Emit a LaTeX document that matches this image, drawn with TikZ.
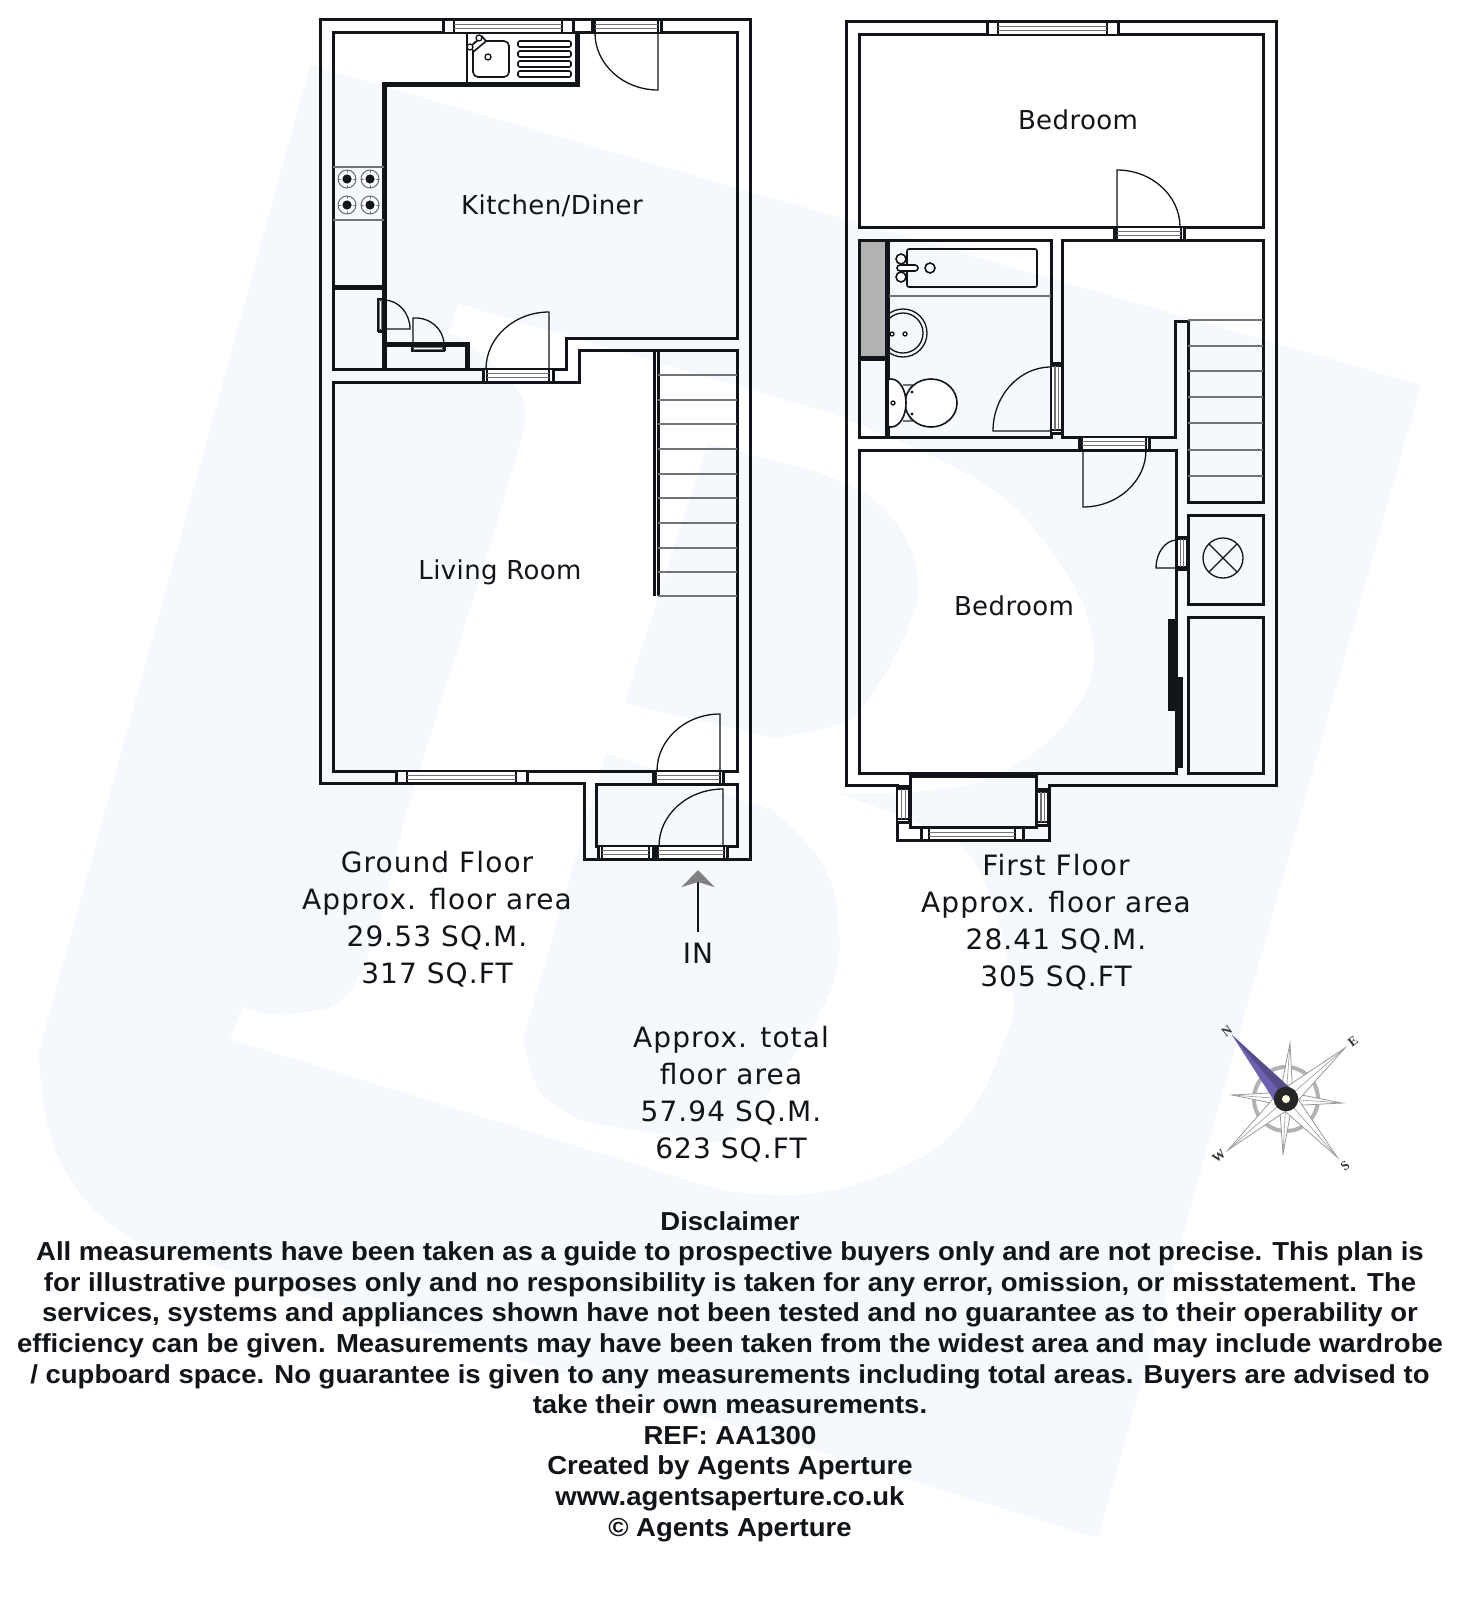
\documentclass[tikz,border=0pt]{standalone}
\usepackage{fontspec}
\setmainfont[LetterSpace=1.5]{DejaVu Sans}
\newfontfamily\areafont[LetterSpace=3.9]{DejaVu Sans}
\newfontfamily\noticefont[FakeStretch=1.058]{Liberation Sans}
\newfontfamily\compassfont{Liberation Serif}
\usepackage{xcolor}
\usetikzlibrary{calc, arrows.meta}
\definecolor{logoblue}{HTML}{F5F8FD}
\definecolor{inkblack}{HTML}{111418}
\definecolor{needlepurple}{HTML}{6E5FB0}
\tikzset{
  wall/.style={draw=inkblack,line width=3pt,line join=miter},
  thickwall/.style={draw=inkblack,line width=5pt,line join=miter},
  thin line/.style={draw=inkblack,line width=1.6pt},
  greyline/.style={draw=black!55,line width=1.6pt},
  doorline/.style={draw=inkblack,line width=1.3pt},
  roomlabel/.style={font=\fontsize{26}{30}\selectfont,text=inkblack,anchor=base,inner sep=0pt},
  arealabel/.style={font=\areafont\fontsize{28}{36.7}\selectfont,text=inkblack,align=center,anchor=base,inner sep=0pt},
  compassletter/.style={font=\compassfont\bfseries\fontsize{13}{13}\selectfont,text=black!80,rotate=38,inner sep=0pt},
}
% opening in a wall: corners, then the inset of its cross pieces
\newcommand{\openh}[5]{
  \fill[white] (#1,#2) rectangle (#3,#4);
  \draw[thin line,line width=2.4pt] (#1,#2) rectangle (#3,#4);
  \draw[thin line,line width=3pt] (#1,#2)--(#1,#4) (#3,#2)--(#3,#4);
  \draw[thin line,line width=2pt] ({#1+#5},#2)--({#1+#5},#4) ({#3-#5},#2)--({#3-#5},#4);
  \draw[greyline,line width=1.2pt] ({#1+#5},{#2+0.36*(#4-#2)})--({#3-#5},{#2+0.36*(#4-#2)}) ({#1+#5},{#2+0.68*(#4-#2)})--({#3-#5},{#2+0.68*(#4-#2)});
}
\newcommand{\openv}[5]{
  \fill[white] (#1,#2) rectangle (#3,#4);
  \draw[thin line,line width=2.4pt] (#1,#2) rectangle (#3,#4);
  \draw[thin line,line width=3pt] (#1,#2)--(#3,#2) (#1,#4)--(#3,#4);
  \draw[thin line,line width=2pt] (#1,{#2+#5})--(#3,{#2+#5}) (#1,{#4-#5})--(#3,{#4-#5});
  \draw[greyline,line width=1.2pt] ({#1+0.36*(#3-#1)},{#2+#5})--({#1+0.36*(#3-#1)},{#4-#5}) ({#1+0.68*(#3-#1)},{#2+#5})--({#1+0.68*(#3-#1)},{#4-#5});
}
% door: hinge, tip of the leaf, end of the swing
\newcommand{\doorleaf}[3]{
  \draw[doorline] (#1)--(#2) .. controls ($(#2)+0.55*(#3)-0.55*(#1)$) and ($(#3)+0.55*(#2)-0.55*(#1)$) .. (#3);
}
\newcommand{\burner}[2]{
  \draw[black!60,line width=0.9pt] (#1,#2) circle[radius=9pt];
  \draw[black!60,line width=0.9pt] (#1,{#2-9})--(#1,{#2+9}) ({#1-9},#2)--({#1+9},#2);
  \fill[white] (#1,#2) circle[radius=6.5pt];
  \fill[inkblack] (#1,#2) circle[radius=4.6pt];
}
\begin{document}
\begin{tikzpicture}[x=1pt,y=-1pt]
\useasboundingbox (0,0) rectangle (1461,1600);
\fill[white] (0,0) rectangle (1461,1600);

% logo behind the plans
\fill[logoblue] (310,65)--(1421,385)--(1098,1538)--(156,1248)
  -- plot[smooth,tension=0.7] coordinates{(156,1248) (115,1228) (69,1178) (46,1118) (39,1051)} -- cycle;
\fill[white] (458,304)--(830,413)
  -- plot[smooth,tension=0.7] coordinates{(830,413) (977,480) (1050,550) (1092,637) (1075,710) (1007,770) (930,790) (837,793)}
  -- plot[smooth,tension=0.7] coordinates{(837,793) (909,820) (963,847) (994,910) (1013,994) (1003,1044) (966,1118) (909,1163) (815,1193) (720,1190)}
  -- (230,1039)--(243,1007)
  -- plot[smooth,tension=0.7] coordinates{(243,1007) (294,1014) (358,979) (404,820)}
  -- (493,537)--(522,437)
  -- plot[smooth,tension=0.7] coordinates{(522,437) (525,413) (520,393) (500,370) (468,343) (449,333)} -- cycle;
\fill[logoblue] (708,443)--(811,470)
  -- plot[smooth,tension=0.7] coordinates{(811,470) (880,505) (917,570) (907,630) (863,707) (830,727) (773,738)}
  -- (624,703) -- cycle;
\fill[logoblue] (606,753)--(772,810)
  -- plot[smooth,tension=0.7] coordinates{(772,810) (820,861) (838,920) (829,994) (767,1094) (720,1143)}
  -- (588,1123)
  -- plot[smooth,tension=0.7] coordinates{(588,1123) (542,1094) (523,1039)} -- cycle;

% ground floor walls
\draw[wall] (320,20)--(750,20)--(750,859)--(584,859)--(584,783)--(320,783)--cycle;
\draw[wall] (333,33)--(737,33)--(737,338)--(566,338)--(566,369)--(333,369)--cycle;
\draw[wall] (333,382)--(579,382)--(579,350)--(737,350)--(737,771)--(333,771)--cycle;
\draw[wall] (596,784) rectangle (737,846);
\draw[thickwall] (384,369)--(384,85)--(577,85)--(577,33);
\draw[thickwall] (333,287)--(384,287);
\draw[thickwall] (384,344)--(467,344)--(467,369);
\draw[wall] (654,350)--(654,596);
\draw[wall] (658,350)--(658,596);
\foreach \ty in {375,400,424,449,474,498,523,548,572,596}{
\draw[greyline] (658,\ty)--(737,\ty);
}

% ground floor windows and doors
\openh{443}{20}{573}{33}{11}
\openh{396}{771}{527}{783}{11}
\openh{598}{846}{653}{859}{4}
\openh{592}{20}{661}{33}{3}
\openh{483}{369}{553}{382}{4}
\openh{653}{771}{723}{784}{3}
\openh{655}{846}{727}{859}{3}
\doorleaf{658,33}{658,90}{595,33}
\doorleaf{549,369}{549,312}{486,369}
\doorleaf{720,771}{720,714}{657,771}
\doorleaf{723,846}{723,789}{659,846}
\openv{378}{299}{383}{331}{1}
\openh{412}{346}{444}{351}{1}
\doorleaf{384,329}{410,329}{384,300}
\doorleaf{413,347}{413,318}{444,345}

% kitchen fittings
\draw[thin line] (467,33)--(467,85);
\draw[thin line,rounded corners=5pt] (473,41) rectangle (509,77);
\foreach \by in {41,51,61,71}{
\draw[thin line,rounded corners=2pt] (518,\by) rectangle (571,{\by+6});
}
\draw[doorline] (488,57) circle[radius=3pt];
\draw[thin line,fill=white,rotate around={40:(478,44)}] (470,41) rectangle (486,47);
\draw[doorline,fill=white] (470,47) circle[radius=3pt] (479,38) circle[radius=3pt];
\draw[greyline] (333,167)--(384,167) (333,220)--(384,220);
\burner{347}{179}
\burner{370}{179}
\burner{347}{205}
\burner{370}{205}

% first floor walls
\draw[wall] (846,22)--(1276,22)--(1276,785)--(1049,785)--(1049,840)--(897,840)--(897,785)--(846,785)--cycle;
\draw[wall] (859,35) rectangle (1263,227);
\fill[black!30] (861,242) rectangle (885,358);
\draw[wall] (859,240) rectangle (1051,437);
\draw[thickwall] (887,240)--(887,437);
\draw[thickwall] (859,358)--(887,358);
\draw[wall] (1062,240)--(1263,240)--(1263,502)--(1188,502)--(1188,321)--(1175,321)--(1175,437)--(1062,437)--cycle;
\foreach \ty in {320,346,371,397,423,450,476}{
\draw[greyline] (1188,\ty)--(1263,\ty);
}
\draw[wall] (859,450) rectangle (1176,773);
\draw[wall] (1188,515) rectangle (1263,604);
\draw[wall] (1188,617) rectangle (1263,773);
\draw[wall] (910,776) rectangle (1036,827);
\fill[inkblack] (1168,619) rectangle (1175,711);
\fill[inkblack] (1176,677) rectangle (1183,768);

% first floor windows and doors
\openh{987}{22}{1118}{35}{11}
\openh{921}{828}{1023}{840}{8}
\openv{897}{786}{909}{822}{3}
\openv{1037}{789}{1048}{825}{3}
\openh{1114}{227}{1184}{240}{3}
\openh{1079}{437}{1149}{450}{3}
\openv{1051}{363}{1062}{433}{3}
\openv{1177}{537}{1187}{569}{2}
\doorleaf{1117,227}{1117,170}{1180,227}
\doorleaf{1083,450}{1083,507}{1146,450}
\doorleaf{1051,431}{993,431}{1051,367}
\doorleaf{1177,568}{1156,568}{1177,540}

% bathroom fittings
\draw[thin line,rounded corners=2pt] (907,249) rectangle (1037,287);
\draw[thin line,fill=white] (901,259) circle[radius=5pt] (901,277) circle[radius=5pt];
\draw[thin line,fill=white,rounded corners=3pt] (897,265) rectangle (918,271);
\draw[thin line] (930,268) circle[radius=5pt];
\draw[greyline] (889,296)--(1051,296);
\begin{scope}
\clip (889,300) rectangle (970,432);
\draw[doorline] (903,333) circle[radius=24pt] (903,333) circle[radius=20pt];
\draw[doorline] (892,334) circle[radius=2pt] (905,334) circle[radius=2pt];
\draw[greyline] (903,385)--(912,385)--(906,397) (903,421)--(912,421)--(906,409);
\draw[thin line,fill=white] (931,403) ellipse[x radius=26pt,y radius=24pt];
\draw[thin line,fill=white] (891,403) ellipse[x radius=15pt,y radius=24pt];
\draw[doorline] (893,403) circle[radius=2pt];
\fill[inkblack] (912,392) circle[radius=1.6pt] (912,414) circle[radius=1.6pt];
\end{scope}
\draw[doorline] (1223,558) circle[radius=20pt];
\draw[doorline] ($(1223,558)+(-14,-14)$)--($(1223,558)+(14,14)$) ($(1223,558)+(14,-14)$)--($(1223,558)+(-14,14)$);

% room names
\node[roomlabel] (kitchen) at (552,214) {Kitchen/Diner};
\node[roomlabel] (living) at (500,579) {Living Room};
\node[roomlabel] (bedtop) at (1078,130) {Bedroom};
\node[roomlabel] (bedlow) at (1014,615) {Bedroom};

% areas
\node[arealabel] (groundarea) at (437,983) {Ground Floor\\Approx. floor area\\29.53 SQ.M.\\317 SQ.FT};
\node[arealabel] (firstarea) at (1056,986) {First Floor\\Approx. floor area\\28.41 SQ.M.\\305 SQ.FT};
\node[arealabel] (totalarea) at (731,1158) {Approx. total\\floor area\\57.94 SQ.M.\\623 SQ.FT};

% way in
\node[roomlabel,font=\areafont\fontsize{28}{30}\selectfont] (inlabel) at (698,963) {IN};
\coordinate (intip) at (698,870);
\draw[line width=2pt,draw=inkblack,-{Stealth[length=17pt,width=33pt,inset=5pt,color=black!50]}] (inlabel.north)++(0,-10)--(intip);

% compass
\coordinate (hub) at (1286,1099);
\draw[black!30,line width=4pt] (hub) circle[radius=32pt];
\foreach \tx/\ty/\bw in {1290/1043/7,1342/1103/7,1283/1154/7,1232/1095/7,1345/1048/10,1337/1157/10,1228/1150/10}{
\coordinate (tip) at (\tx,\ty);
\draw[black!40,line width=0.8pt,fill=white] (tip)--($(hub)!\bw pt!90:(tip)$)--($(hub)!\bw pt!-90:(tip)$)--cycle;
\draw[black!40,line width=0.6pt] (tip)--(hub);
}
\coordinate (needle) at (1232,1035);
\fill[needlepurple] (needle)--($(hub)!11pt!90:(needle)$)--($(hub)!11pt!-90:(needle)$)--cycle;
\fill[needlepurple!80!black] (needle)--($(hub)!11pt!-90:(needle)$)--(hub)--cycle;
\fill[black!85] (hub) circle[radius=12.3pt];
\fill[white!90!yellow] (hub) circle[radius=4pt];
\node[compassletter] (cn) at (1227,1031) {N};
\node[compassletter] (ce) at (1353,1041) {E};
\node[compassletter] (cs) at (1345,1166) {S};
\node[compassletter] (cw) at (1219,1156) {W};

% notice
\node[font=\noticefont\bfseries\fontsize{26}{30.6}\selectfont,text=inkblack,align=center,anchor=base,inner sep=0pt] (notice) at (730,1536) {Disclaimer\\
All measurements have been taken as a guide to prospective buyers only and are not precise. This plan is\\
for illustrative purposes only and no responsibility is taken for any error, omission, or misstatement. The\\
services, systems and appliances shown have not been tested and no guarantee as to their operability or\\
efficiency can be given. Measurements may have been taken from the widest area and may include wardrobe\\
/ cupboard space. No guarantee is given to any measurements including total areas. Buyers are advised to\\
take their own measurements.\\
REF: AA1300\\
Created by Agents Aperture\\
www.agentsaperture.co.uk\\
© Agents Aperture};
\end{tikzpicture}
\end{document}
